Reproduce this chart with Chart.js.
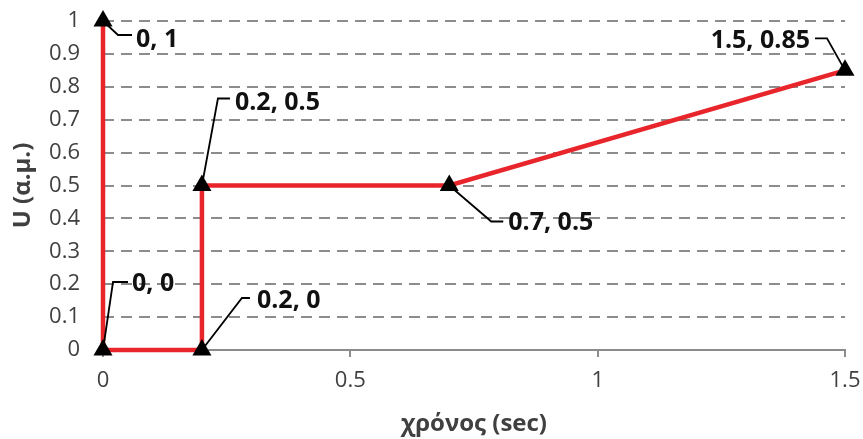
<!DOCTYPE html>
<html>
<head>
<meta charset="utf-8">
<script src="https://cdn.jsdelivr.net/npm/chart.js@4.4.1/dist/chart.umd.min.js"></script>
<style>
  html, body { margin: 0; padding: 0; background: #fff; }
  #wrap { width: 863px; height: 439px; }
</style>
</head>
<body>
<div id="wrap"><canvas id="chart"></canvas></div>
<script>
// time (sec) and U (a.u.), in drawing order
const timeValues = [0, 0, 0.2, 0.2, 0.7, 1.5];
const uValues = [1, 0, 0, 0.5, 0.5, 0.85];
const pointLabels = ['0, 1', '0, 0', '0.2, 0', '0.2, 0.5', '0.7, 0.5', '1.5, 0.85'];
const xTickLabels = ['0', '0.5', '1', '1.5'];
const yTickLabels = ['0', '0.1', '0.2', '0.3', '0.4', '0.5', '0.6', '0.7', '0.8', '0.9', '1'];

const colorLine = '#e8252b';
const colorGrid = '#8c8c8c';
const colorText = '#404040';

// leader line + label offsets (px) for each point, same order as the data
const calloutStyle = [
  {path: [[15, 14], [29, 14]], text: [33, 19], align: 'left'},
  {path: [[10, -68], [25, -68]], text: [29, -66], align: 'left'},
  {path: [[40, -52], [48, -52]], text: [55, -49], align: 'left'},
  {path: [[16, -87], [28, -87]], text: [33, -83], align: 'left'},
  {path: [[42, 36], [54, 36]], text: [59, 37], align: 'left'},
  {path: [[-18, -32], [-30, -32]], text: [-35, -29], align: 'right'},
];

const callouts = {
  id: 'callouts',
  afterDatasetsDraw(chart) {
    const ctx = chart.ctx;
    const meta = chart.getDatasetMeta(0);
    ctx.save();
    meta.data.forEach((pt, i) => {
      const s = calloutStyle[i];
      ctx.strokeStyle = '#000';
      ctx.lineWidth = 1.8;
      ctx.beginPath();
      ctx.moveTo(pt.x, pt.y);
      s.path.forEach(p => ctx.lineTo(pt.x + p[0], pt.y + p[1]));
      ctx.stroke();
      ctx.fillStyle = '#111';
      ctx.font = 'bold 25px "Open Sans"';
      ctx.textAlign = s.align;
      ctx.textBaseline = 'middle';
      ctx.fillText(pointLabels[i], pt.x + s.text[0], pt.y + s.text[1]);
    });
    ctx.restore();
  }
};

// drop the padding the scales ask for, so the layout padding alone places the plot
function noScalePadding(s) {
  s.paddingTop = 0; s.paddingBottom = 0; s.paddingLeft = 0; s.paddingRight = 0;
}

new Chart(document.getElementById('chart'), {
  type: 'scatter',
  data: {
    datasets: [{
      data: timeValues.map((t, i) => ({x: t, y: uValues[i]})),
      showLine: true,
      borderColor: colorLine,
      borderWidth: 4.5,
      pointStyle: 'triangle',
      pointRadius: 11,
      pointBackgroundColor: '#000',
      pointBorderColor: '#000',
      pointBorderWidth: 0,
      clip: false,
    }]
  },
  options: {
    responsive: true,
    maintainAspectRatio: false,
    animation: false,
    layout: {autoPadding: false, padding: {top: 21, right: 18, left: 0, bottom: 0}},
    plugins: {legend: {display: false}, tooltip: {enabled: false}},
    scales: {
      x: {
        type: 'linear',
        min: 0, max: 1.5,
        afterFit: s => { s.height = 89; noScalePadding(s); },
        ticks: {
          stepSize: 0.5,
          padding: 11,
          color: colorText,
          font: {family: 'Open Sans', size: 22},
          callback: (v, i) => xTickLabels[i],
        },
        grid: {drawOnChartArea: false, drawTicks: true, tickLength: 7, color: colorGrid, lineWidth: 2},
        border: {display: true, color: colorGrid, width: 2},
        title: {
          display: true,
          text: 'χρόνος (sec)',
          color: colorText,
          font: {family: 'Open Sans', size: 24, weight: 'bold'},
          padding: {top: 0, bottom: 0},
        },
      },
      y: {
        min: 0, max: 1,
        afterFit: s => { s.width = 103; noScalePadding(s); },
        ticks: {
          stepSize: 0.1,
          padding: 23,
          color: colorText,
          font: {family: 'Open Sans', size: 22},
          callback: (v, i) => yTickLabels[i],
        },
        grid: {
          drawTicks: false,
          lineWidth: 2,
          color: c => (c.tick && c.tick.value === 0) ? 'rgba(0,0,0,0)' : colorGrid,
        },
        border: {display: false, dash: [11, 7]},
        title: {
          display: true,
          text: 'U (α.μ.)',
          color: colorText,
          font: {family: 'Open Sans', size: 24, weight: 'bold'},
          padding: {top: 9, bottom: 0},
        },
      }
    }
  },
  plugins: [callouts]
});
</script>
</body>
</html>
